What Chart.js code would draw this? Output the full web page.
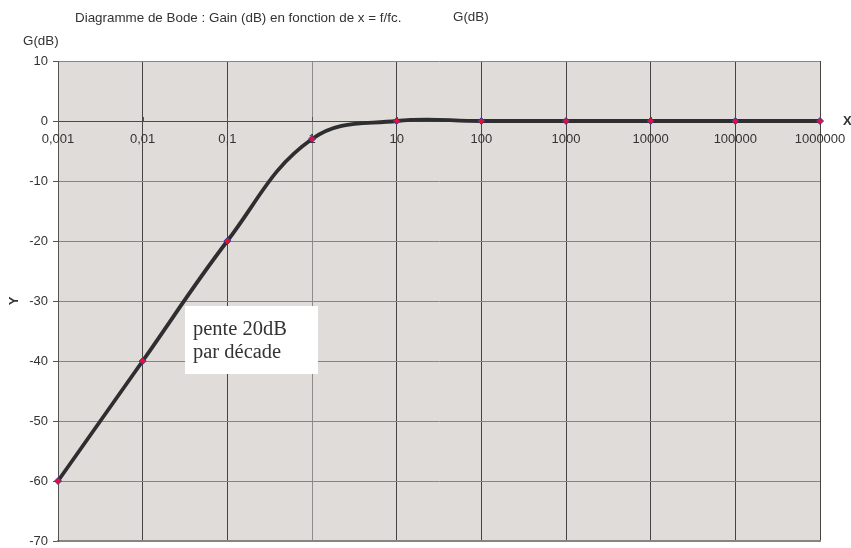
<!DOCTYPE html>
<html>
<head>
<meta charset="utf-8">
<script src="https://cdn.jsdelivr.net/npm/chart.js@4/dist/chart.umd.min.js"></script>
<style>
  html, body { margin: 0; padding: 0; background: #ffffff; }
  #wrap { width: 851px; height: 548px; position: relative; }
</style>
</head>
<body>
<div id="wrap"><canvas id="bode"></canvas></div>
<script>
// Reduced frequency x = f/fc, one value per decade
const xLabels = ['0,001', '0,01', '0,1', '1', '10', '100', '1000', '10000', '100000', '1000000'];
// Gain in dB at each decade
const gainDb = [-60, -40, -20, -3, 0, 0, 0, 0, 0, 0];
// Vertical axis range and step
const yMin = -70, yMax = 10, yStep = 10;

const titleText = 'Diagramme de Bode : Gain (dB) en fonction de x = f/fc.';
const seriesName = 'G(dB)';
const yUnitLabel = 'G(dB)';
const noteLines = ['pente 20dB', 'par décade'];

const SANS = '"Liberation Sans", Arial, sans-serif';
const SERIF = '"Liberation Serif", "Times New Roman", serif';

const decor = {
  id: 'decor',
  beforeDraw(chart) {
    const { ctx, chartArea: a } = chart;
    ctx.save();
    ctx.fillStyle = '#e0dcd9';
    ctx.fillRect(a.left, a.top, a.right - a.left, a.bottom - a.top);
    ctx.restore();
  },
  beforeDatasetsDraw(chart) {
    const { ctx, scales } = chart;
    const x = scales.x, y = scales.y;
    const y0 = y.getPixelForValue(0);
    ctx.save();
    // small tick marks on the 0 dB line
    ctx.strokeStyle = '#555555';
    ctx.lineWidth = 1;
    xLabels.forEach((lab, i) => {
      const px = Math.round(x.getPixelForValue(i)) + 0.5;
      ctx.beginPath();
      ctx.moveTo(px, y0 - 4);
      ctx.lineTo(px, y0);
      ctx.stroke();
    });
    ctx.font = '13px ' + SANS;
    ctx.fillStyle = '#333333';
    ctx.textAlign = 'center';
    ctx.textBaseline = 'middle';
    xLabels.forEach((lab, i) => {
      ctx.fillText(lab, x.getPixelForValue(i), y0 + 18);
    });
    ctx.restore();
  },
  afterDatasetsDraw(chart) {
    const { ctx } = chart;
    // note box
    const bx = 185, by = 306, bw = 133, bh = 68;
    ctx.save();
    ctx.fillStyle = '#ffffff';
    ctx.fillRect(bx, by, bw, bh);
    ctx.fillStyle = '#333333';
    ctx.font = '20.5px ' + SERIF;
    ctx.textAlign = 'left';
    ctx.textBaseline = 'alphabetic';
    ctx.fillText(noteLines[0], 193, 335);
    ctx.fillText(noteLines[1], 193, 358);
    ctx.restore();
  },
  afterDraw(chart) {
    const { ctx, scales, chartArea: a } = chart;
    const y = scales.y;
    ctx.save();
    ctx.fillStyle = '#333333';
    ctx.textBaseline = 'middle';
    ctx.font = '13.4px ' + SANS;
    ctx.textAlign = 'left';
    ctx.fillText(titleText, 75, 18);
    ctx.fillText(seriesName, 453, 17);
    ctx.fillText(yUnitLabel, 23, 41);
    ctx.font = 'bold 13px ' + SANS;
    ctx.fillText('X', 843, y.getPixelForValue(0));
    ctx.translate(14, (a.top + a.bottom) / 2);
    ctx.rotate(-Math.PI / 2);
    ctx.textAlign = 'center';
    ctx.fillText('Y', 0, 0);
    ctx.restore();
  }
};

new Chart(document.getElementById('bode'), {
  type: 'line',
  data: {
    labels: xLabels,
    datasets: [{
      label: seriesName,
      data: gainDb,
      borderColor: '#2e2d30',
      borderWidth: 3.8,
      tension: 0.4,
      pointStyle: 'rectRot',
      pointRadius: 3.5,
      pointBackgroundColor: '#e8102e',
      pointBorderColor: '#3a3aa0',
      pointBorderWidth: 1,
      fill: false,
      clip: 6
    }]
  },
  options: {
    responsive: true,
    maintainAspectRatio: false,
    animation: false,
    devicePixelRatio: 1,
    layout: { padding: { top: 61, right: 31, bottom: 7, left: 0 } },
    plugins: {
      legend: { display: false },
      title: { display: false },
      tooltip: { enabled: false }
    },
    scales: {
      x: {
        type: 'category',
        offset: false,
        ticks: { display: false },
        grid: {
          color: (c) => (c.index === 3 ? '#8c8c8c' : '#444444'),
          lineWidth: 1,
          drawTicks: false
        },
        border: { color: '#8a8480', width: 2 },
        afterFit(s) { s.height = 0; s.paddingLeft = 0; s.paddingRight = 0; }
      },
      y: {
        min: yMin,
        max: yMax,
        ticks: {
          stepSize: yStep,
          color: '#333333',
          padding: 5,
          font: { family: SANS, size: 13 }
        },
        grid: {
          color: (c) => (c.tick && c.tick.value === 0 ? '#4a4a4a' : '#858585'),
          lineWidth: 1,
          tickLength: 5,
          tickColor: '#555555'
        },
        border: { color: '#555555', width: 1 },
        afterFit(s) { s.width = 58; s.paddingTop = 0; s.paddingBottom = 0; }
      }
    }
  },
  plugins: [decor]
});
</script>
</body>
</html>
